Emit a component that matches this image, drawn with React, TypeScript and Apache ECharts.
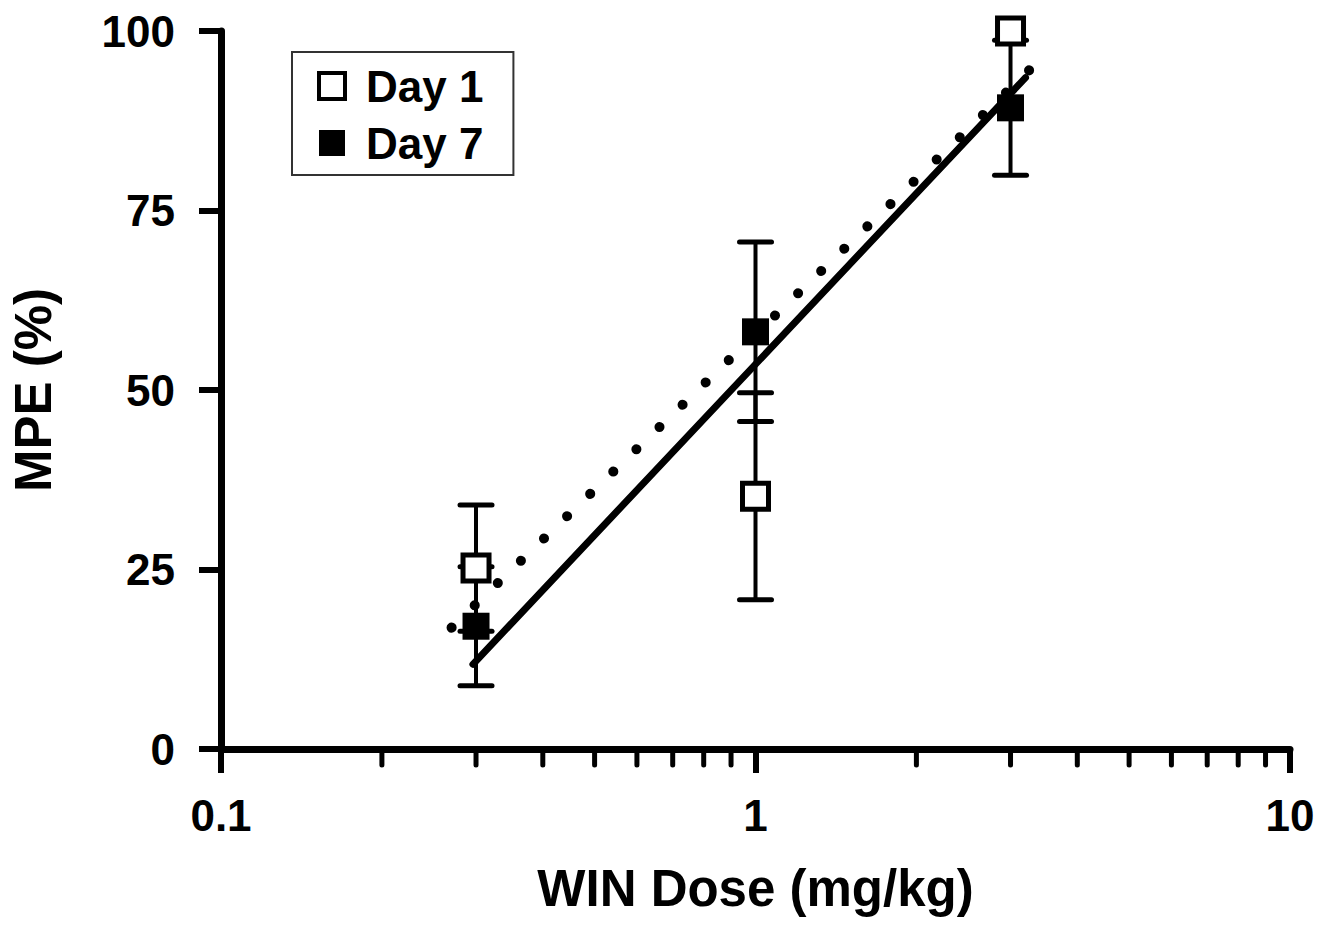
import React, { useEffect, useRef } from 'react';
import * as echarts from 'echarts';

// ---- data ----
const doses = [0.3, 1, 3];
const day1Mean = [25.2, 35.2, 100];
const day1Sem = [8.8, 14.4, 0];
const day7Mean = [17.1, 58.1, 89.3];
const day7Sem = [8.3, 12.5, 9.4];

// regression lines (end points)
const day1FitX = [0.296, 3.2];
const day1FitY = [11.8, 93.5];
const day7FitX = [0.27, 3.3];
const day7FitY = [16.9, 95];

const xMinorTicks = [0.2, 0.3, 0.4, 0.5, 0.6, 0.7, 0.8, 0.9, 2, 3, 4, 5, 6, 7, 8, 9];
const xMin = 0.1;
const xMax = 10;
const yMin = 0;
const yMax = 100;
const yInterval = 25;

const FONT = '"Liberation Sans", Arial, Helvetica, sans-serif';

export default function App() {
  const ref = useRef<HTMLDivElement>(null);

  useEffect(() => {
    if (!ref.current) return;
    const chart = echarts.init(ref.current, undefined, { renderer: 'svg' });

    const errData: number[][] = [];
    doses.forEach((d, i) => {
      if (day1Sem[i] > 0) errData.push([d, day1Mean[i] - day1Sem[i], day1Mean[i] + day1Sem[i]]);
      if (day7Sem[i] > 0) errData.push([d, day7Mean[i] - day7Sem[i], day7Mean[i] + day7Sem[i]]);
    });

    const option: any = {
      animation: false,
      backgroundColor: '#fff',
      grid: { left: 218, right: 42, top: 31, bottom: 178, containLabel: false },
      legend: {
        orient: 'vertical',
        left: 292,
        top: 52,
        padding: [12, 30, 10, 25],
        itemWidth: 26,
        itemHeight: 26,
        itemGap: 13,
        borderColor: '#333',
        borderWidth: 2,
        backgroundColor: '#fff',
        selectedMode: false,
        textStyle: {
          fontSize: 44,
          fontWeight: 'bold',
          fontFamily: FONT,
          color: '#000',
          padding: [0, 0, 0, 16],
        },
        data: [
          { name: 'Day 1', icon: 'rect', itemStyle: { color: '#fff', borderColor: '#000', borderWidth: 4 } },
          { name: 'Day 7', icon: 'rect', itemStyle: { color: '#000', borderColor: '#000', borderWidth: 0 } },
        ],
      },
      xAxis: {
        type: 'log',
        logBase: 10,
        min: xMin,
        max: xMax,
        name: 'WIN Dose (mg/kg)',
        nameLocation: 'middle',
        nameGap: 114,
        nameTextStyle: { fontSize: 51, fontWeight: 'bold', fontFamily: FONT, color: '#000' },
        axisLine: { show: true, lineStyle: { color: '#000', width: 7 } },
        axisTick: { show: true, length: 24, lineStyle: { color: '#000', width: 6 } },
        axisLabel: {
          fontSize: 44,
          fontWeight: 'bold',
          fontFamily: FONT,
          color: '#000',
          margin: 44,
          formatter: (v: number) => (v < 1 ? String(v) : String(Math.round(v))),
        },
        splitLine: { show: false },
        minorTick: { show: false },
      },
      yAxis: {
        type: 'value',
        min: yMin,
        max: yMax,
        interval: yInterval,
        name: 'MPE (%)',
        nameLocation: 'middle',
        nameGap: 162,
        nameRotate: 90,
        nameTextStyle: { fontSize: 51, fontWeight: 'bold', fontFamily: FONT, color: '#000' },
        axisLine: { show: true, lineStyle: { color: '#000', width: 7 } },
        axisTick: { show: true, length: 22, lineStyle: { color: '#000', width: 6 } },
        axisLabel: { fontSize: 44, fontWeight: 'bold', fontFamily: FONT, color: '#000', margin: 46 },
        splitLine: { show: false },
      },
      series: [
        {
          type: 'custom',
          name: 'minorTicks',
          silent: true,
          clip: false,
          data: xMinorTicks.map((v) => [v, 0]),
          encode: { x: 0, y: 1 },
          renderItem: (params: any, api: any) => {
            const p = api.coord([api.value(0), 0]);
            return {
              type: 'line',
              shape: { x1: p[0], y1: p[1], x2: p[0], y2: p[1] + 16 },
              style: { stroke: '#000', lineWidth: 5, lineCap: 'round' },
            };
          },
          z: 1,
        },
        {
          type: 'custom',
          name: 'errorBars',
          silent: true,
          clip: false,
          data: errData,
          encode: { x: 0, y: [1, 2] },
          renderItem: (params: any, api: any) => {
            const x = api.value(0);
            const lo = api.coord([x, api.value(1)]);
            const hi = api.coord([x, api.value(2)]);
            const hw = 16;
            const st = { stroke: '#000', lineWidth: 5 };
            return {
              type: 'group',
              children: [
                { type: 'line', shape: { x1: lo[0], y1: lo[1], x2: hi[0], y2: hi[1] }, style: { stroke: '#000', lineWidth: 4 } },
                { type: 'line', shape: { x1: lo[0] - hw, y1: lo[1], x2: lo[0] + hw, y2: lo[1] }, style: { ...st, lineCap: 'round' } },
                { type: 'line', shape: { x1: hi[0] - hw, y1: hi[1], x2: hi[0] + hw, y2: hi[1] }, style: { ...st, lineCap: 'round' } },
              ],
            };
          },
          z: 2,
        },
        {
          type: 'line',
          name: 'Day 1 fit',
          data: day1FitX.map((x, i) => [x, day1FitY[i]]),
          showSymbol: false,
          symbol: 'none',
          lineStyle: { color: '#000', width: 7, type: 'solid', cap: 'round' },
          silent: true,
          z: 3,
        },
        {
          type: 'line',
          name: 'Day 7 fit',
          data: day7FitX.map((x, i) => [x, day7FitY[i]]),
          showSymbol: false,
          symbol: 'none',
          lineStyle: { color: '#000', width: 10, type: [0.1, 32], cap: 'round' },
          silent: true,
          z: 3,
        },
        {
          type: 'scatter',
          name: 'Day 7',
          data: doses.map((d, i) => [d, day7Mean[i]]),
          symbol: 'rect',
          symbolSize: 27,
          itemStyle: { color: '#000', borderColor: '#000', borderWidth: 0, opacity: 1 },
          z: 4,
        },
        {
          type: 'scatter',
          name: 'Day 1',
          data: doses.map((d, i) => [d, day1Mean[i]]),
          symbol: 'rect',
          symbolSize: 26,
          itemStyle: { color: '#fff', borderColor: '#000', borderWidth: 5, opacity: 1 },
          z: 5,
        },
      ],
    };

    chart.setOption(option);
    return () => chart.dispose();
  }, []);

  return (
    <div
      ref={ref}
      style={{ position: 'fixed', left: 0, top: 0, width: 1332, height: 927, background: '#fff' }}
    />
  );
}
